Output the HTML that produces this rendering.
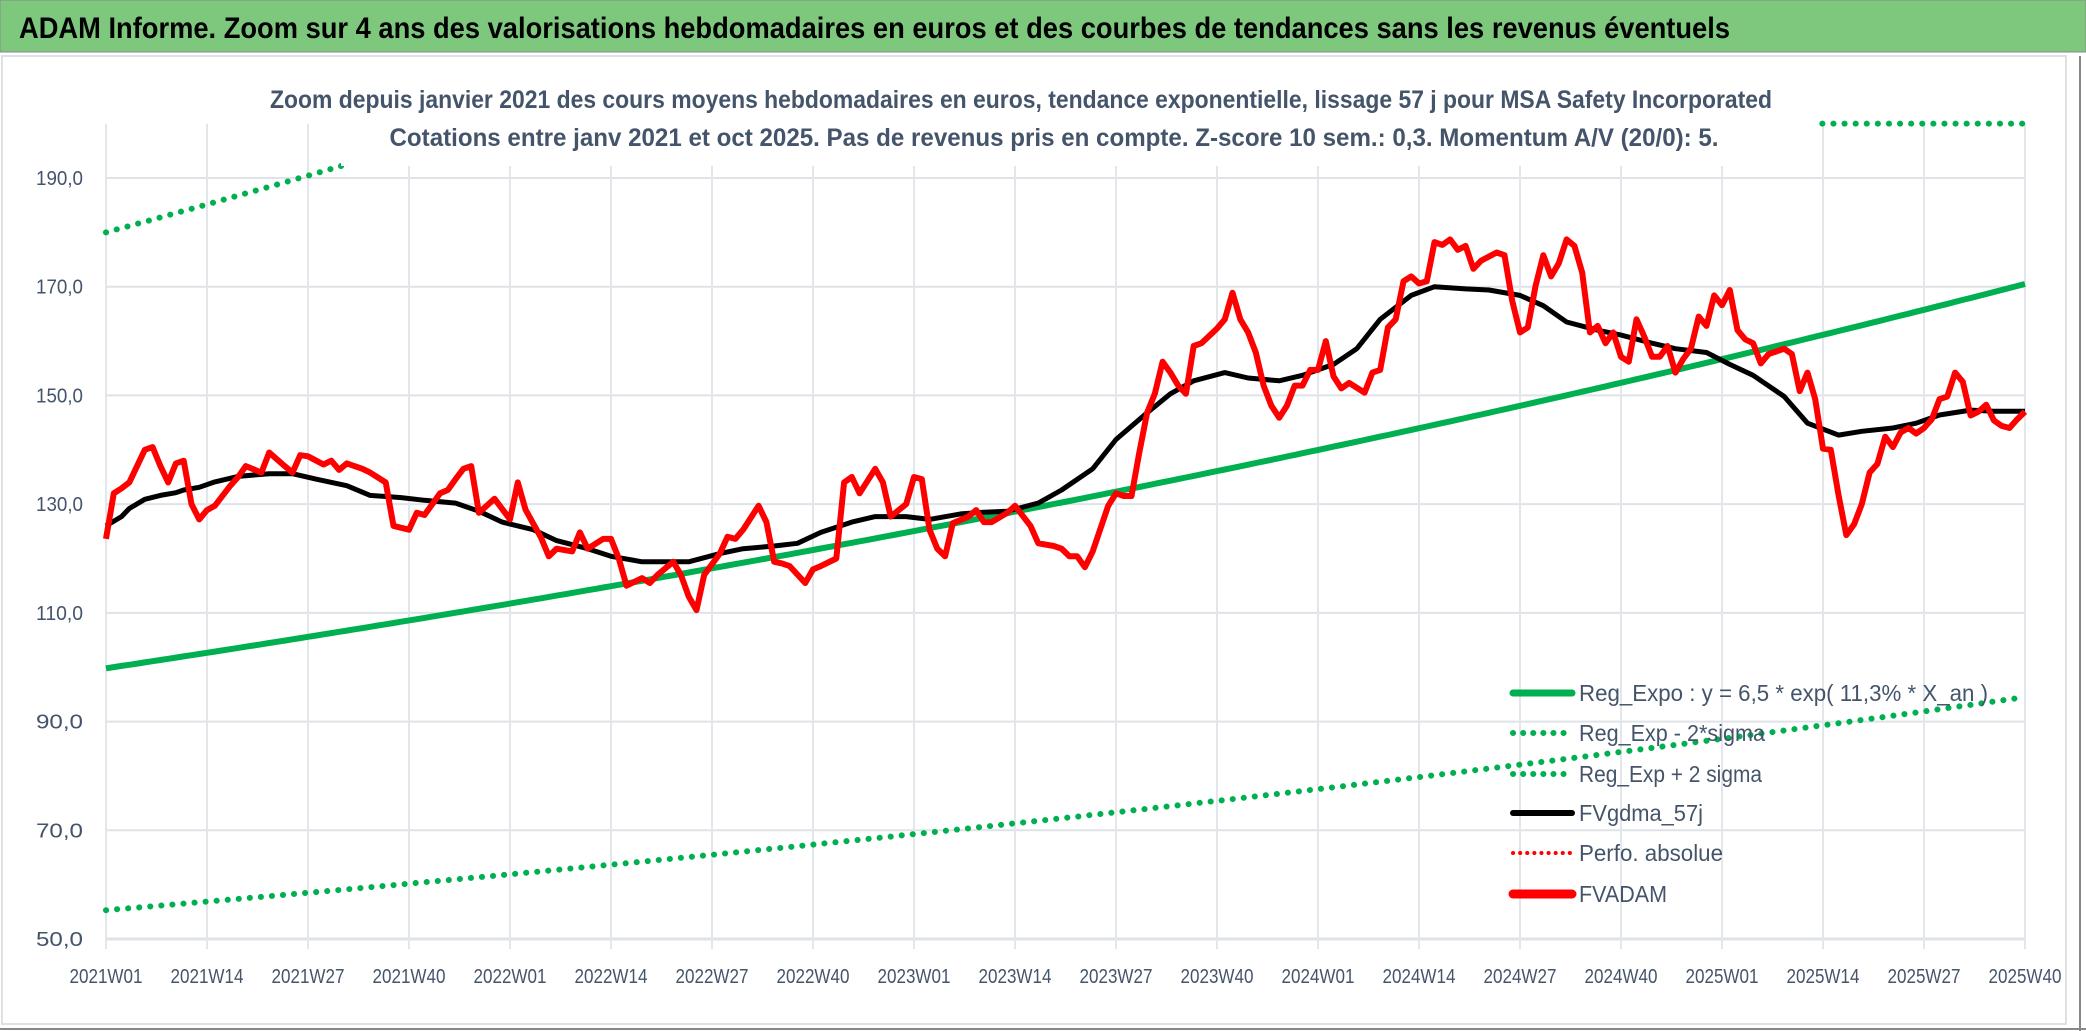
<!DOCTYPE html>
<html><head><meta charset="utf-8"><style>
html,body{margin:0;padding:0;background:#fff;}
svg{display:block;font-family:"Liberation Sans Narrow","Liberation Sans",sans-serif;}
</style></head><body>
<svg id="chart" width="2086" height="1031" viewBox="0 0 2086 1031" xmlns="http://www.w3.org/2000/svg">
<rect x="0" y="0" width="2086" height="1031" fill="#fff"/>
<rect x="0" y="0" width="2086" height="52" fill="#7ec87e" stroke="#888" stroke-width="1"/>
<text x="19" y="38" font-size="30" font-weight="bold" fill="#000" textLength="1711" lengthAdjust="spacingAndGlyphs">ADAM Informe. Zoom sur 4 ans des valorisations hebdomadaires en euros et des courbes de tendances sans les revenus éventuels</text>
<rect x="2" y="56" width="2064" height="968" fill="none" stroke="#dde1e6" stroke-width="2"/>
<line x1="0" y1="1029" x2="2086" y2="1029" stroke="#888" stroke-width="2"/>
<line x1="2080" y1="56" x2="2080" y2="1031" stroke="#888" stroke-width="2"/>
<g id="grid"></g>
<g id="series"></g>
<g id="legend"></g>
<rect x="341" y="58" width="1474" height="108" fill="#fff"/>
<text x="1021" y="108" font-size="25" font-weight="bold" fill="#44546a" text-anchor="middle" textLength="1502" lengthAdjust="spacingAndGlyphs">Zoom depuis janvier 2021 des cours moyens hebdomadaires en euros, tendance exponentielle, lissage 57 j pour MSA Safety Incorporated</text>
<text x="1054" y="146" font-size="25" font-weight="bold" fill="#44546a" text-anchor="middle" textLength="1329" lengthAdjust="spacingAndGlyphs">Cotations entre janv 2021 et oct 2025. Pas de revenus pris en compte. Z-score 10 sem.: 0,3. Momentum A/V (20/0): 5.</text>
</svg>
<script>
const xLabels=["2021W01","2021W14","2021W27","2021W40","2022W01","2022W14","2022W27","2022W40","2023W01","2023W14","2023W27","2023W40","2024W01","2024W14","2024W27","2024W40","2025W01","2025W14","2025W27","2025W40"];
const yTicks=[50,70,90,110,130,150,170,190];
const yTickLabels=["50,0","70,0","90,0","110,0","130,0","150,0","170,0","190,0"];
const nWeeks=248;
const regStart=99.8, regEnd=170.5;
const lowStart=55.3, lowEnd=94.5;
const upStart=180, upEnd=307.4;
const yMax=200;
const redWeeks=[0,1,2,3,5,6,7,8,9,10,11,12,13,14,16,17,18,20,21,23,24,25,26,28,29,30,31,33,34,36,37,39,40,41,43,44,45,46,47,48,50,52,53,54,56,57,58,60,61,62,64,65,66,67,69,70,71,73,74,75,76,77,79,80,81,82,84,85,86,87,88,90,91,92,94,95,96,97,99,100,101,103,104,105,106,107,108,109,111,112,113,114,116,117,119,120,122,123,124,125,126,127,129,130,131,132,133,134,135,136,137,138,139,140,141,143,144,145,146,147,148,149,150,151,152,153,154,155,156,157,158,159,160,162,163,164,165,166,167,168,169,170,171,172,173,174,175,176,177,179,180,181,182,183,184,185,186,187,188,189,190,191,192,193,194,195,196,197,198,199,200,201,202,203,204,205,206,207,208,209,210,211,212,213,214,215,216,217,218,219,220,221,222,223,224,225,226,227,228,229,230,231,232,233,234,235,236,237,238,239,240,241,242,243,244,245,246,247];
const redValues=[123.6,132,132.9,134,140,140.5,137,134,137.5,138,130,127.2,128.9,129.7,133.4,135,137,135.8,139.5,137,135.8,139,138.8,137.3,138,136.3,137.5,136.5,135.8,134,126,125.3,128.4,128,132,132.6,134.6,136.5,137,128.4,131,127.2,134,129,123.8,120.4,121.8,121.3,124.8,121.8,123.6,123.6,120,115,116.4,115.5,117,119.4,117,113,110.5,117,120.9,124,123.6,125.3,129.7,126.7,119.4,119.1,118.6,115.5,118,118.6,120,134,135,132,136.5,134,127.7,130,135,134.6,125.3,121.8,120.4,126.5,127.7,128.9,126.7,126.7,128.4,129.7,126,122.8,122.3,121.8,120.4,120.4,118.4,121.3,129.7,132,131.5,131.5,139.5,146.8,150.3,156.2,154.2,151.8,150.3,159.1,159.6,162.3,164,168.9,164,161.6,157.9,151.8,148.1,145.9,148.1,151.8,151.8,154.7,154.7,160,153.5,151.3,152.3,150.5,154.2,154.7,162.5,164,171,171.9,170.6,171,178.2,177.7,178.7,176.8,177.5,173.3,174.8,176.3,175.8,167.4,161.6,162.5,170.1,175.8,171.9,174.3,178.7,177.5,172.6,161.6,162.8,159.6,161.6,157.1,156.2,164,160.8,157.1,157.1,159.1,154.2,156.7,158.6,164.5,162.8,168.4,166.6,169.4,162,160.3,159.6,155.9,157.6,158.1,158.6,157.6,150.8,154.2,149.3,140.2,140,131.7,124.3,126.3,130,135.8,137.4,142.4,140.5,143.2,144,143,144,145.6,149.3,149.8,154.2,152.5,146.3,147,148.3,145.4,144.4,144,145.6,147];
const blackWeeks=[0,2,3,5,7,9,10,12,14,17,21,24,27,31,34,38,41,45,48,51,55,58,62,65,69,72,75,79,82,86,89,92,96,99,103,106,110,113,116,120,123,127,130,134,137,140,144,147,151,154,158,161,164,168,171,175,178,182,185,188,192,195,199,202,206,209,212,216,219,223,226,230,233,236,240,243,247];
const blackValues=[126,127.7,129.2,130.9,131.6,132.1,132.6,133.1,134.1,135.1,135.6,135.6,134.6,133.4,131.6,131.2,130.7,130.2,128.7,126.7,125.3,123.3,121.8,120.4,119.4,119.4,119.4,120.9,121.8,122.3,122.8,124.8,126.7,127.7,127.7,127.2,128.2,128.5,128.7,130.2,132.6,136.5,141.9,146.8,150.3,152.7,154.2,153.2,152.7,153.7,155.7,158.6,164,168.4,170,169.6,169.4,168.4,166.5,163.5,162,161.1,159.6,158.6,157.9,155.7,153.7,149.8,144.9,142.7,143.4,144,144.9,146.4,147.3,147.1,147.1];

const NS="http://www.w3.org/2000/svg";
const X0=106,X1=2025,Y50=939,Y190=178;
const xScale=w=>X0+(X1-X0)*w/(nWeeks-1);
const yScale=v=>Y50-(v-50)*(Y50-Y190)/140;
function mk(tag,attrs,parent){const e=document.createElementNS(NS,tag);for(const k in attrs)e.setAttribute(k,attrs[k]);parent.appendChild(e);return e;}
const grid=document.getElementById('grid'),ser=document.getElementById('series'),leg=document.getElementById('legend');
const yTop=yScale(yMax);
yTicks.forEach((t,i)=>{
  const l=mk('line',{x1:X0,x2:X1,y1:yScale(t),y2:yScale(t),stroke:'#dfe2e7','stroke-width':t===50?3:2},grid);
  
  
  const tx=mk('text',{x:83,y:yScale(t)+7,'font-size':20,fill:'#44546a','text-anchor':'end',textLength:47,lengthAdjust:'spacingAndGlyphs'},grid);
  tx.textContent=yTickLabels[i];
  
  
});
xLabels.forEach((lab,i)=>{
  const x=xScale(i*13);
  const l=mk('line',{x1:x,x2:x,y1:yTop,y2:Y50+10,stroke:'#e3e6ea','stroke-width':2},grid);
  
  
  const tx=mk('text',{x:x,y:983,'font-size':20,fill:'#44546a','text-anchor':'middle',textLength:73,lengthAdjust:'spacingAndGlyphs'},grid);
  tx.textContent=lab;
  
  
});
function expPts(a,b,from,to){const p=[];for(let w=from;w<=to;w++){const v=Math.min(yMax,a*Math.pow(b/a,w/(nWeeks-1)));p.push(xScale(w).toFixed(1)+','+yScale(v).toFixed(1));}return p.join(' ');}
const dot={'stroke-dasharray':'0.1 11','stroke-linecap':'round','stroke-width':6,fill:'none',stroke:'#00b050'};
let e=mk('polyline',Object.assign({points:expPts(lowStart,lowEnd,0,nWeeks-1)},dot),ser);


e=mk('polyline',Object.assign({points:expPts(upStart,upEnd,0,nWeeks-1)},dot),ser);


e=mk('polyline',{points:expPts(regStart,regEnd,0,nWeeks-1),fill:'none',stroke:'#00b050','stroke-width':6},ser);


e=mk('polyline',{points:blackWeeks.map((w,i)=>xScale(w).toFixed(1)+','+yScale(blackValues[i]).toFixed(1)).join(' '),fill:'none',stroke:'#000','stroke-width':5,'stroke-linejoin':'round'},ser);


e=mk('polyline',{points:redWeeks.map((w,i)=>xScale(w).toFixed(1)+','+yScale(redValues[i]).toFixed(1)).join(' '),fill:'none',stroke:'#ff0000','stroke-width':6,'stroke-linejoin':'round'},ser);


const legItems=[
 {t:'Reg_Expo : y = 6,5 * exp( 11,3% *  X_an )',c:'#00b050',d:false,w:7,len:409},
 {t:'Reg_Exp - 2*sigma',c:'#00b050',d:true,w:6,len:186},
 {t:'Reg_Exp + 2 sigma',c:'#00b050',d:true,w:6,len:183},
 {t:'FVgdma_57j',c:'#000',d:false,w:6,len:124},
 {t:'Perfo. absolue',c:'#ff0000',d:true,w:4,len:144},
 {t:'FVADAM',c:'#ff0000',d:false,w:9,len:88}];
const legY=[693,733,774,813,853,894];
legItems.forEach((it,i)=>{
  const g=mk('g',{},leg);
  
  
  const a={x1:1513,x2:1572,y1:legY[i],y2:legY[i],stroke:it.c,'stroke-width':it.w,'stroke-linecap':'round'};
  if(it.d)a['stroke-dasharray']=it.w<5?'0.1 7':'0.1 10';
  mk('line',a,g);
  const tx=mk('text',{x:1579,y:legY[i]+8,'font-size':23,fill:'#44546a',textLength:it.len,lengthAdjust:'spacingAndGlyphs'},g);
  tx.textContent=it.t;
});
</script>
</body></html>
